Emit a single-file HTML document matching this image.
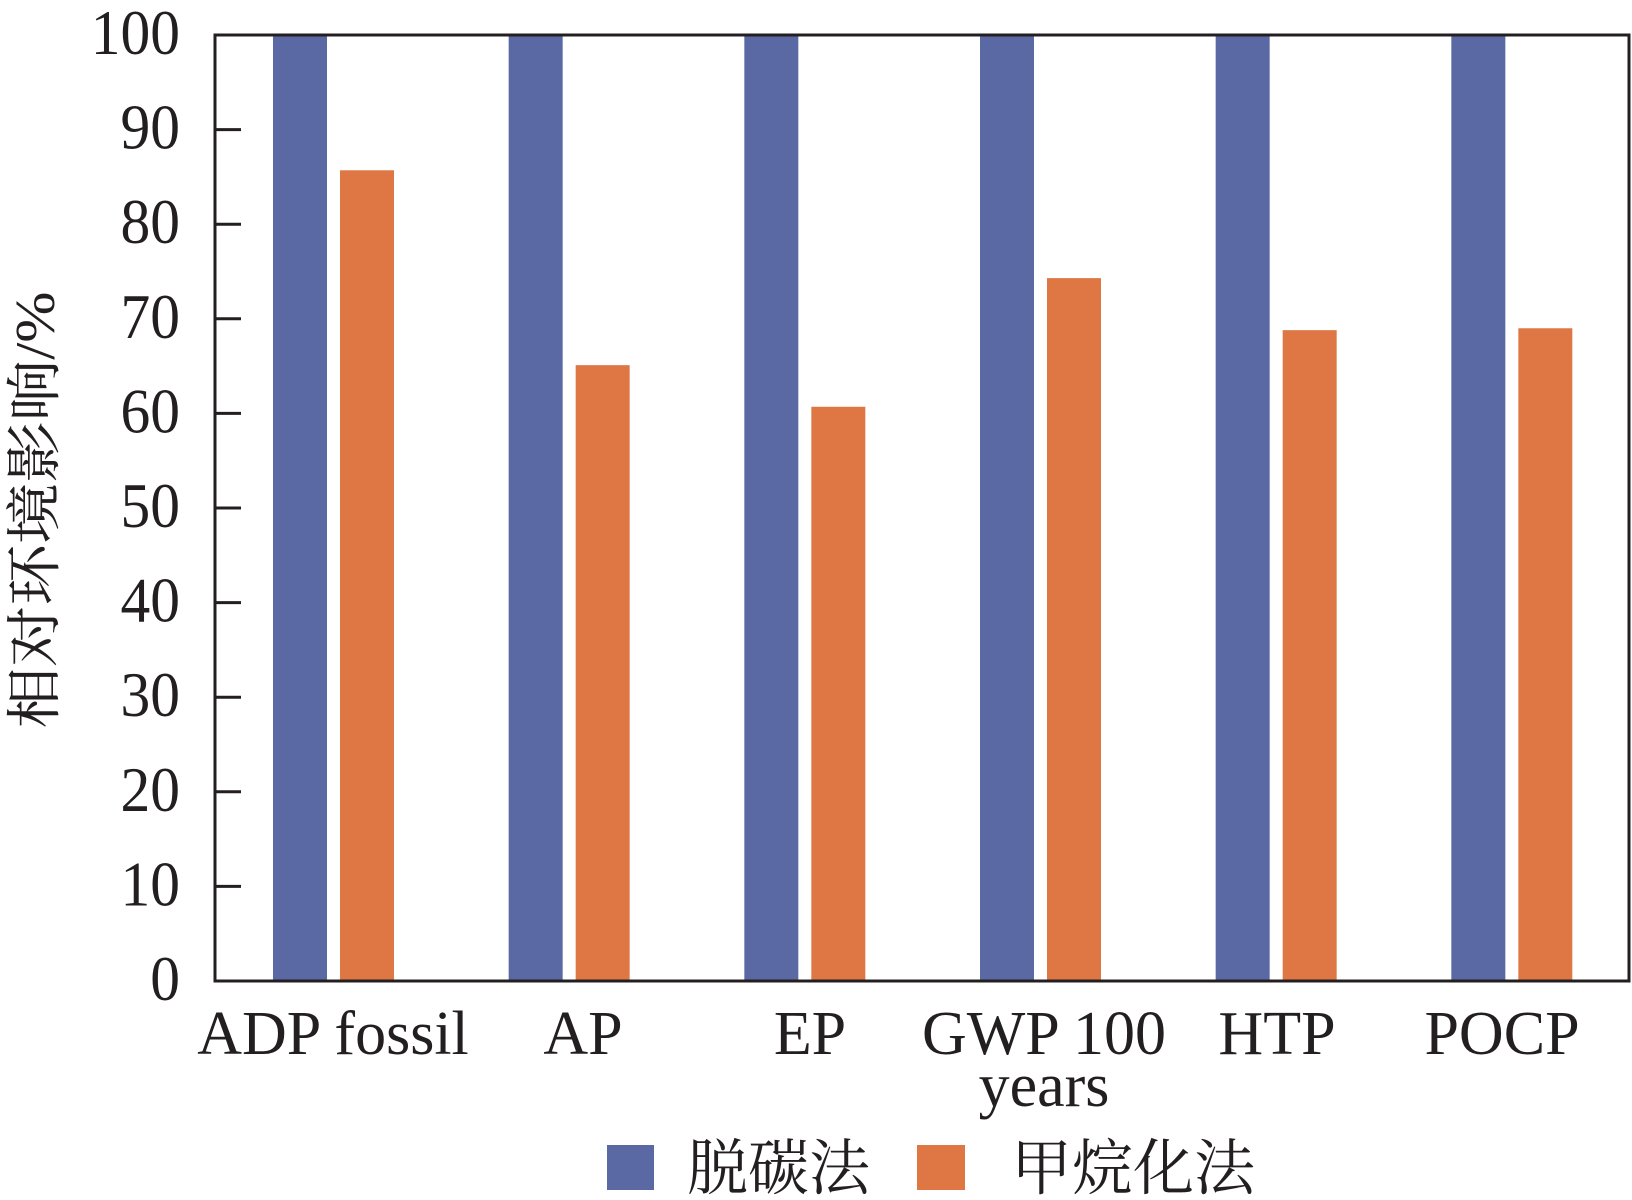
<!DOCTYPE html>
<html><head><meta charset="utf-8"><style>
html,body{margin:0;padding:0;background:#fff;}
svg{display:block;}
</style></head><body>
<svg id="chart" width="1632" height="1200" xmlns="http://www.w3.org/2000/svg">
<g id="bars"></g>
<g id="yaxis"></g>
<g id="xaxis"></g>
<rect x="215" y="35" width="1414" height="946" fill="none" stroke="#231f20" stroke-width="3"/>
<text transform="translate(54,510) rotate(-90)" text-anchor="middle" textLength="437" lengthAdjust="spacingAndGlyphs" font-family="'Liberation Serif','Noto Serif CJK SC',serif" font-size="56" fill="#231f20">相对环境影响/%</text>
<g>
<rect x="607" y="1145" width="47" height="45" fill="#5a69a3"/>
<text x="687" y="1189" font-family="'Liberation Serif','Noto Serif CJK SC',serif" font-size="61" fill="#231f20">脱碳法</text>
<rect x="917" y="1145" width="48" height="45" fill="#de7743"/>
<text x="1011" y="1189" font-family="'Liberation Serif','Noto Serif CJK SC',serif" font-size="61" fill="#231f20">甲烷化法</text>
</g>
</svg>
<script>
const categories = ["ADP fossil","AP","EP","GWP 100 years","HTP","POCP"];
const decarbValues = [100,100,100,100,100,100];
const methanValues = [85.7,65.1,60.7,74.3,68.8,69.0];
const yTicks = [0,10,20,30,40,50,60,70,80,90,100];

const NS="http://www.w3.org/2000/svg";
const L=215,R=1629,T=35,B=981;
const y=v=>B-(v/100)*(B-T);
const gw=(R-L)/categories.length;
const x=i=>L+i*gw;
function mk(tag,attrs,parent){const e=document.createElementNS(NS,tag);for(const k in attrs)e.setAttribute(k,attrs[k]);parent.appendChild(e);return e;}
const bars=document.getElementById('bars'),ya=document.getElementById('yaxis'),xa=document.getElementById('xaxis');
const font="'Liberation Serif','Noto Serif CJK SC',serif";
const labelCenters=[333,583,810,1044,1277,1502];
categories.forEach((c,i)=>{
  const b1=mk('rect',{x:x(i)+58,y:y(decarbValues[i]),width:54,height:y(0)-y(decarbValues[i]),fill:'#5a69a3'},bars);
  
  
  const b2=mk('rect',{x:x(i)+125,y:y(methanValues[i]),width:54,height:y(0)-y(methanValues[i]),fill:'#de7743'},bars);
  
  
  const cx=labelCenters[i];
  const parts=c==="GWP 100 years"?["GWP 100","years"]:[c];
  parts.forEach((p,j)=>{
    const t=mk('text',{x:cx,y:1054+j*52,'text-anchor':'middle','font-family':font,'font-size':62,fill:'#231f20'},xa);
    t.textContent=p;
    
    
  });
});
yTicks.forEach(v=>{
  const ln=mk('line',{x1:L,x2:L+26,y1:y(v),y2:y(v),stroke:'#231f20','stroke-width':3},ya);
  
  
  const t=mk('text',{transform:'translate(180,'+(y(v)+19)+') scale(0.93,1)','text-anchor':'end','font-family':font,'font-size':64,fill:'#231f20'},ya);
  t.textContent=v;
  
  
});
</script>
</body></html>
